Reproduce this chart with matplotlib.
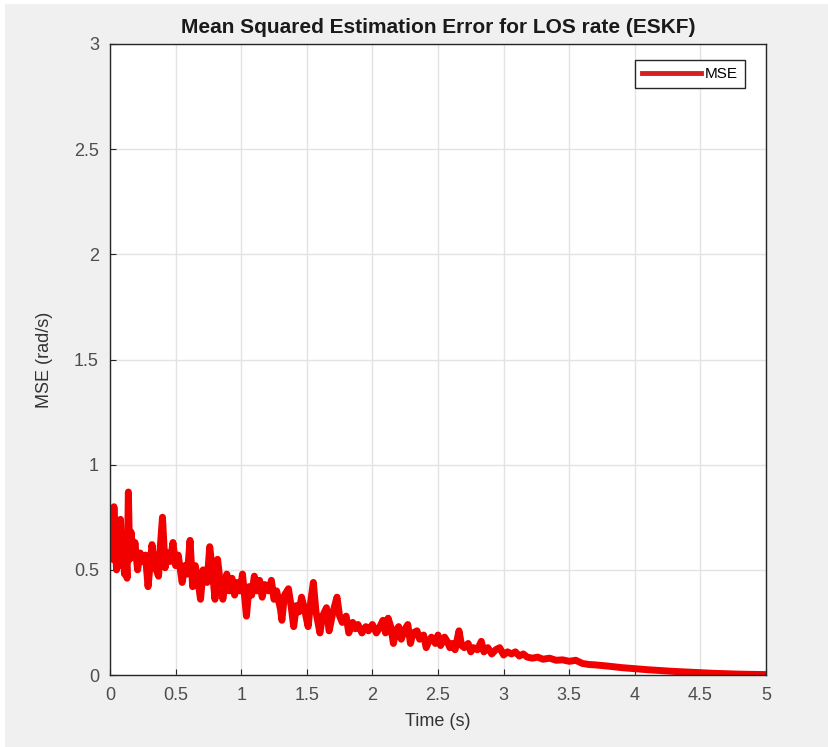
import numpy as np
import matplotlib
matplotlib.use("Agg")
import matplotlib.pyplot as plt
from matplotlib.patches import Rectangle
from matplotlib.ticker import FuncFormatter

# values
t = [0.00, 0.01, 0.02, 0.03, 0.04, 0.05, 0.06, 0.07, 0.08, 0.09,
     0.10, 0.11, 0.12, 0.13, 0.14, 0.15, 0.16, 0.18, 0.19, 0.21,
     0.23, 0.25, 0.27, 0.29, 0.31, 0.32, 0.34, 0.37, 0.38, 0.40,
     0.42, 0.44, 0.46, 0.48, 0.50, 0.52, 0.55, 0.57, 0.59, 0.61,
     0.63, 0.65, 0.67, 0.69, 0.71, 0.74, 0.76, 0.78, 0.80, 0.82,
     0.84, 0.86, 0.89, 0.91, 0.93, 0.95, 0.97, 0.99, 1.01, 1.04,
     1.06, 1.08, 1.10, 1.12, 1.14, 1.16, 1.18, 1.21, 1.23, 1.25,
     1.27, 1.30, 1.31, 1.33, 1.36, 1.38, 1.40, 1.42, 1.44, 1.46,
     1.48, 1.51, 1.53, 1.55, 1.57, 1.60, 1.62, 1.65, 1.67, 1.70,
     1.73, 1.75, 1.77, 1.80, 1.82, 1.85, 1.87, 1.89, 1.92, 1.95,
     1.97, 2.00, 2.03, 2.05, 2.08, 2.10, 2.12, 2.14, 2.16, 2.18,
     2.20, 2.22, 2.25, 2.27, 2.29, 2.31, 2.34, 2.36, 2.39, 2.41,
     2.43, 2.45, 2.48, 2.50, 2.52, 2.55, 2.57, 2.59, 2.61, 2.63,
     2.66, 2.68, 2.70, 2.73, 2.75, 2.77, 2.80, 2.83, 2.85, 2.88,
     2.91, 2.94, 2.97, 3.00, 3.03, 3.06, 3.09, 3.12, 3.15, 3.18,
     3.22, 3.26, 3.30, 3.35, 3.40, 3.45, 3.50, 3.55, 3.60, 3.65,
     3.70, 3.80, 3.90, 4.00, 4.10, 4.20, 4.30, 4.40, 4.50, 4.60,
     4.70, 4.80, 4.90, 5.00]
mse = [0.60, 0.66, 0.55, 0.80, 0.62, 0.50, 0.70, 0.58, 0.74, 0.52,
       0.66, 0.48, 0.60, 0.46, 0.87, 0.55, 0.68, 0.56, 0.63, 0.50,
       0.58, 0.54, 0.57, 0.42, 0.55, 0.62, 0.52, 0.47, 0.58, 0.75,
       0.51, 0.58, 0.54, 0.63, 0.52, 0.57, 0.44, 0.52, 0.48, 0.64,
       0.42, 0.52, 0.45, 0.36, 0.50, 0.44, 0.61, 0.50, 0.36, 0.55,
       0.44, 0.36, 0.48, 0.40, 0.46, 0.38, 0.44, 0.40, 0.48, 0.28,
       0.42, 0.38, 0.47, 0.40, 0.45, 0.37, 0.43, 0.40, 0.45, 0.36,
       0.40, 0.31, 0.26, 0.38, 0.41, 0.33, 0.23, 0.33, 0.30, 0.37,
       0.32, 0.23, 0.35, 0.44, 0.30, 0.20, 0.28, 0.32, 0.21, 0.30,
       0.37, 0.28, 0.25, 0.28, 0.20, 0.25, 0.22, 0.24, 0.20, 0.23,
       0.21, 0.24, 0.20, 0.22, 0.26, 0.20, 0.27, 0.23, 0.15, 0.21,
       0.23, 0.17, 0.22, 0.24, 0.15, 0.20, 0.21, 0.17, 0.19, 0.13,
       0.16, 0.18, 0.15, 0.19, 0.14, 0.18, 0.16, 0.13, 0.15, 0.12,
       0.21, 0.14, 0.13, 0.15, 0.11, 0.13, 0.12, 0.16, 0.11, 0.13,
       0.10, 0.12, 0.13, 0.095, 0.11, 0.10, 0.11, 0.09, 0.10, 0.085,
       0.08, 0.085, 0.075, 0.08, 0.07, 0.072, 0.065, 0.07, 0.055, 0.05,
       0.048, 0.042, 0.035, 0.030, 0.025, 0.021, 0.017, 0.014, 0.011, 0.008,
       0.006, 0.004, 0.003, 0.002]

x_ticks = np.arange(0, 5.01, 0.5)
y_ticks = np.arange(0, 3.01, 0.5)

plt.rcParams['font.family'] = ['Liberation Sans', 'DejaVu Sans']

fig = plt.figure(figsize=(8.29, 7.47), dpi=100, facecolor='white')
fig.patches.append(Rectangle((5/829, 0), 1, 743/747, transform=fig.transFigure,
                             facecolor='#f0f0f0', edgecolor='none', zorder=-10))
ax = fig.add_axes([110/829, 72/747, 656/829, 631/747])
ax.set_facecolor('white')

ax.plot(t, mse, color='#f20000', linewidth=5.0, solid_joinstyle='round', label='MSE')

ax.set_xlim(0, 5)
ax.set_ylim(0, 3)
ax.set_xticks(x_ticks)
ax.set_yticks(y_ticks)
fmt = FuncFormatter(lambda v, p: '%g' % v)
ax.xaxis.set_major_formatter(fmt)
ax.yaxis.set_major_formatter(fmt)
ax.grid(True, color='#e3e3e3', linewidth=1.0)
ax.set_axisbelow(True)
ax.tick_params(direction='in', length=4, width=0.8, colors='#262626',
               labelcolor='#4d4d4d', labelsize=13, top=False, right=False)
ax.tick_params(axis='x', pad=9)
ax.tick_params(axis='y', pad=8)
for s in ax.spines.values():
    s.set_color('#262626')
    s.set_linewidth(1.0)

ax.set_title('Mean Squared Estimation Error for LOS rate (ESKF)', fontsize=15,
             fontweight='bold', color='#1a1a1a', pad=8)
ax.set_xlabel('Time (s)', fontsize=13, color='#333333', labelpad=6)
ax.set_ylabel('MSE (rad/s)', fontsize=13, color='#333333', labelpad=15)

leg = ax.legend(loc='upper right', bbox_to_anchor=(1 - 21/656, 1 - 16/631),
                fontsize=11, handlelength=3.9, handletextpad=0.25,
                borderaxespad=0, fancybox=False, framealpha=1, borderpad=0.45)
leg.get_frame().set_edgecolor('#262626')
leg.get_frame().set_linewidth(1.0)
leg.get_lines()[0].set_linewidth(3.5)
leg.get_lines()[0].set_color('#d42020')

fig.savefig('out.png', dpi=100, facecolor=fig.get_facecolor())
